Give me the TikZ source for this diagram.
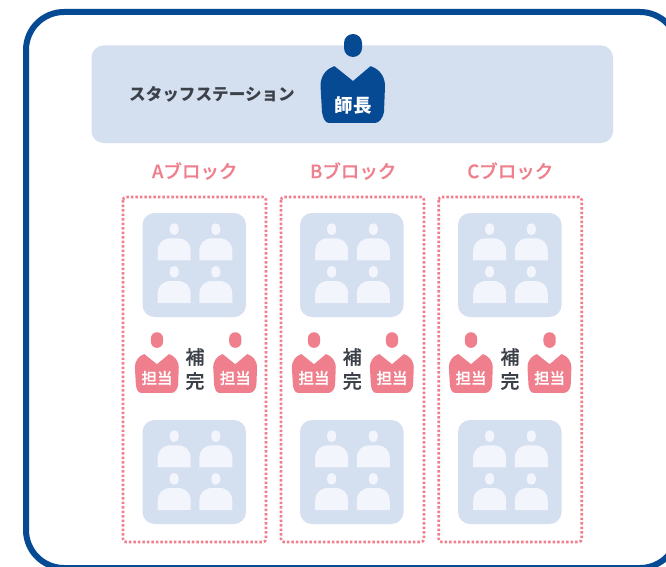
\documentclass[tikz,border=0pt]{standalone}
\usepackage{fontspec}
\setmainfont{Noto Sans CJK JP}
\newfontfamily\mediumcjk[FakeBold=0.35]{Noto Sans CJK JP Medium}
\definecolor{navy}{HTML}{064A94}
\definecolor{paleblue}{HTML}{D4DFF0}
\definecolor{paper}{HTML}{F2F5FC}
\definecolor{rose}{HTML}{EF7F8C}
\definecolor{ink}{HTML}{3C4048}
\tikzset{
  frameline/.style={draw=navy,line width=6pt,rounded corners=38pt},
  stationbox/.style={fill=paleblue,rounded corners=12pt},
  roombox/.style={fill=paleblue,rounded corners=12pt},
  blockbox/.style={draw=rose,line width=2.6pt,dash pattern=on 2.5pt off 2pt,rounded corners=3pt},
  blocktitle/.style={text=rose,font=\fontsize{18.5}{20}\selectfont\mediumcjk,inner sep=0pt},
  stationtitle/.style={text=ink,font=\fontsize{16.6}{18}\selectfont\bfseries,inner sep=0pt},
  helptext/.style={text=ink,font=\fontsize{19}{21}\selectfont\mediumcjk,inner sep=0pt},
  badge/.style={text=white,inner sep=0pt,font=\fontsize{15.5}{17}\selectfont\mediumcjk},
  bigbadge/.style={text=white,inner sep=0pt,font=\fontsize{18.5}{20}\selectfont\bfseries},
}
% #1 x centre, #2 y of shoulder top, #3 scale, #4 colour
\newcommand{\staffshape}[4]{%
  \begin{scope}[shift={(#1,#2)},x=#3pt,y=-#3pt]
    \fill[#4,rounded corners=9*#3 pt] (-9,-32) rectangle (9,-9);
    \fill[#4] (-20,0.7) -- (-18.5,0.2) -- (0,15) -- (17.5,0.2) -- (19,0.7)
      .. controls (25,3) and (32,9) .. (32,20)
      -- (31,46) .. controls (30,52) and (26,57) .. (22,57)
      -- (-24,57) .. controls (-28,57) and (-30,52) .. (-31,46)
      -- (-32.5,20) .. controls (-32.5,9) and (-26,3) .. (-20,0.7) -- cycle;
  \end{scope}}
% #1 x left, #2 y head top
\newcommand{\patient}[2]{%
  \begin{scope}[shift={(#1,#2)}]
    \fill[paper,rounded corners=4.4pt] (12,0) rectangle (21,11.7);
    \fill[paper] (0,37) -- (0,28) .. controls (0,20) and (5,15) .. (13,15)
      -- (20,15) .. controls (28,15) and (33,20) .. (33,28) -- (33,37) -- cycle;
  \end{scope}}
% #1 room name, #2 left, #3 top
\newcommand{\room}[3]{%
  \path[roombox] (#2,#3) rectangle +(103.5,104);
  \coordinate (#1) at (#2,#3);
  \patient{#2+15.2}{#3+10.3}
  \patient{#2+56.8}{#3+10.3}
  \patient{#2+15.2}{#3+53}
  \patient{#2+56.8}{#3+53}}
% #1 prefix, #2 frame left, #3 title, #4 room left, #5 staff 1 x, #6 staff 2 x, #7 help x, #8 title x
\newcommand{\block}[8]{%
  \draw[blockbox] (#2,197) rectangle +(143,345);
  \node[blocktitle] (#1title) at (#8,171) {#3};
  \room{#1upper}{#4}{213}
  \room{#1lower}{#4}{420}
  \staffshape{#5}{354}{0.68}{rose}
  \staffshape{#6}{354}{0.68}{rose}
  \node[badge] (#1lead) at (#5,378) {担当};
  \node[badge] (#1sub) at (#6,378) {担当};
  \node[helptext] (#1helpa) at (#7,357) {補};
  \node[helptext] (#1helpb) at (#7,381) {完};}
\begin{document}
\begin{tikzpicture}[x=1pt,y=-1pt]
  \useasboundingbox (0,0) rectangle (666,567);
  \clip (0,0) rectangle (666,567);
  \fill[white] (0,0) rectangle (666,567);
  \draw[frameline] (26,12) rectangle (678,568);
  \path[stationbox] (91.5,45.5) rectangle (613,143);
  \node[stationtitle] (station) at (212,94) {スタッフステーション};
  \staffshape{353}{66}{1}{navy}
  \node[bigbadge] (chief) at (353,105) {師長};
  \block{a}{123}{Aブロック}{142.5}{157}{235.3}{195}{194.7}
  \block{b}{281}{Bブロック}{300}{314}{392}{352.3}{353.2}
  \block{c}{438.7}{Cブロック}{458}{471}{549.6}{510}{510.3}
\end{tikzpicture}
\end{document}
